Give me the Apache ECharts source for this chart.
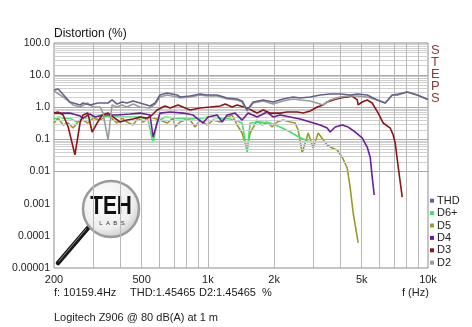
<!DOCTYPE html>
<html><head><meta charset="utf-8">
<script src="https://cdn.jsdelivr.net/npm/echarts@6/dist/echarts.min.js"></script>
<style>html,body{margin:0;padding:0;background:#fff}#c{width:472px;height:327px}</style>
</head><body><div id="c"></div>
<script>
const freqTicks = [200, 500, 1000, 2000, 5000, 10000];
const yTickValues = [0.00001, 0.0001, 0.001, 0.01, 0.1, 1, 10, 100];
const yTickLabels = ['0.00001', '0.0001', '0.001', '0.01', '0.1', '1.0', '10.0', '100.0'];
const legendNames = ['THD', 'D6+', 'D5', 'D4', 'D3', 'D2'];

const thdF = [200,209,236,263,271,291,317,352,367,387,408,429,457,492,546,576,606,653,725,748,830,922,992,1101,1223,1358,1431,1508,1606,1783,1979,2198,2440,2626,2916,3238,3594,3991,4432,4770,5294,5878,6392,6878,7245,8046,8934,10000];
const thdV = [3.45,3.71,1.46,1.18,1.36,1.18,1.36,1.36,1.69,1.26,1.46,1.36,1.57,1.36,1.10,1.36,2.41,2.78,2.41,2.09,2.24,2.59,2.41,2.41,1.94,1.81,1.57,0.82,1.46,1.69,1.46,1.81,2.09,1.94,2.09,2.41,2.59,2.59,2.41,2.59,2.41,1.69,1.36,2.41,2.41,2.99,2.41,1.75];

const d2F = [200,220,244,263,283,301,324,334,352,367,387,408,429,457,492,546,576,606,653,725,748,830,922,992,1101,1223,1358,1431,1508,1606,1783,1979,2198,2440,2626,2916,3340,3594,3991,4432,4770,5294,5878,6392,6878,8046,8934,10000];
const d2V = [3.21,2.09,1.18,1.02,1.36,1.02,1.02,0.66,0.096,1.18,1.02,1.18,1.02,1.26,1.02,0.95,1.26,2.09,2.41,2.09,1.94,2.09,2.41,2.24,2.24,1.81,1.69,1.46,0.77,1.36,1.57,1.26,1.57,1.81,1.69,1.57,1.18,1.69,2.09,2.24,2.24,2.09,1.69,1.36,2.41,2.99,2.41,1.75];

const d3F = [200,209,220,232,249,263,271,285,298,314,331,352,371,399,429,457,492,529,558,588,639,674,732,830,922,1024,1137,1198,1289,1358,1508,1674,1783,1918,2130,2292,2545,2710,2916,3138,3340,3483,3708,3991,4295,4526,4770,4818,5024,5294,5578,5940,6260,6736,6949,7096,7322,7636];
const d3V = [0.66,0.71,0.575,0.243,0.033,0.348,0.575,0.66,0.170,0.324,0.575,0.66,0.50,0.348,0.40,0.43,0.50,0.46,0.575,0.82,1.10,0.95,1.18,0.82,0.95,1.02,1.10,1.26,1.02,1.18,0.95,0.66,0.82,0.66,0.66,0.71,0.71,0.66,0.77,1.02,1.18,1.46,1.69,1.94,2.09,2.24,1.69,1.18,1.46,1.69,1.36,0.66,0.324,0.226,0.137,0.077,0.0139,0.00161];

const d4F = [200,213,236,263,271,291,307,334,387,443,492,546,564,606,674,772,857,951,1002,1101,1161,1223,1330,1431,1524,1674,1859,1979,2130,2365,2626,2916,3238,3483,3594,3788,4076,4340,4670,5024,5294,5464,5578,5696];
const d4V = [0.66,0.66,0.66,0.535,0.46,0.62,0.50,0.575,0.575,0.62,0.66,0.575,0.119,0.66,0.71,0.66,0.575,0.324,0.50,0.575,0.348,0.575,0.66,0.40,0.66,0.50,0.71,0.50,0.575,0.50,0.43,0.348,0.281,0.226,0.170,0.243,0.281,0.243,0.170,0.111,0.058,0.028,0.0068,0.00187];

const d5F = [200,209,220,232,244,257,271,285,301,324,341,359,387,408,429,457,482,508,546,606,653,695,710,748,788,830,875,922,992,1056,1137,1198,1289,1358,1431,1508,1556,1674,1765,1859,1958,2064,2198,2365,2492,2572,2682,2855,3009,3170,3483,3670,3869,4076,4295,4432,4573,4818];
const d5V = [0.324,0.46,0.281,0.324,0.226,0.348,0.40,0.324,0.46,0.40,0.50,0.50,0.324,0.46,0.348,0.281,0.46,0.348,0.50,0.40,0.324,0.46,0.243,0.348,0.40,0.40,0.243,0.40,0.281,0.40,0.348,0.46,0.575,0.281,0.158,0.047,0.158,0.40,0.281,0.348,0.243,0.348,0.40,0.348,0.324,0.196,0.038,0.158,0.054,0.158,0.067,0.054,0.047,0.028,0.0129,0.0031,0.00051,0.00006];

const d6F = [200,209,220,236,254,271,301,334,387,443,492,535,564,588,639,725,830,922,1024,1137,1262,1358,1431,1508,1556,1728,1918,2130,2365,2545,2710,2855];
const d6V = [0.43,0.50,0.46,0.46,0.348,0.46,0.50,0.50,0.50,0.50,0.50,0.40,0.077,0.348,0.50,0.46,0.43,0.46,0.50,0.46,0.43,0.374,0.324,0.041,0.324,0.348,0.324,0.243,0.170,0.128,0.103,0.089];

const colors = {THD:'#62628e', 'D6+':'#3ee46c', D5:'#9c9a24', D4:'#6c1c9c', D3:'#8c1616', D2:'#9c9c9c'};

const zip = (f, v) => f.map((x, i) => [x, v[i]]);

// grid line values (decade sub-divisions)
const xGrid = [];
[100, 1000].forEach(d => { for (let m = 2; m <= 9; m++) { const v = m * d; if (v > 200) xGrid.push(v); } });
xGrid.push(1000);
const yMinor = [], yMajor = [];
for (let k = -5; k < 2; k++) {
  const d = Math.pow(10, k);
  for (let m = 2; m <= 9; m++) yMinor.push(+(m * d).toPrecision(3));
  if (k > -5) yMajor.push(d);
}

function fmtF(v) { const r = Math.round(v); return r >= 1000 ? (r / 1000) + 'k' : String(r); }
function fmtY(v) { return yTickLabels[Math.round(Math.log10(v)) + 5]; }

function mkSeries(name, f, v, z) {
  return {
    name, type: 'line', data: zip(f, v), showSymbol: false, symbol: 'none',
    lineStyle: {width: 1.6, color: colors[name]}, itemStyle: {color: colors[name]},
    z, silent: true, animation: false
  };
}

const chart = echarts.init(document.getElementById('c'), null, {renderer: 'canvas'});
const txt = (x, y, s, opt) => Object.assign({type: 'text', x, y, silent: true, style: Object.assign({text: s, fill: '#222', font: '11px "Liberation Sans", Arial, sans-serif', verticalAlign: 'middle'}, opt || {})});

chart.setOption({
  animation: false,
  backgroundColor: '#fff',
  grid: {left: 54, top: 43, width: 374, height: 225, show: true, borderColor: '#8c8c8c', borderWidth: 1, backgroundColor: 'transparent', containLabel: false},
  xAxis: {
    type: 'log', logBase: 10, min: 200, max: 10000,
    axisLine: {show: false}, axisTick: {show: false}, splitLine: {show: false},
    axisLabel: {customValues: freqTicks, formatter: fmtF, fontSize: 11, color: '#222', margin: 6, fontFamily: '"Liberation Sans", Arial, sans-serif'}
  },
  yAxis: {
    type: 'log', logBase: 10, min: 0.00001, max: 100,
    axisLine: {show: false}, axisTick: {show: false}, splitLine: {show: false},
    axisLabel: {customValues: yTickValues, formatter: fmtY, fontSize: 10.5, color: '#222', margin: 4, fontFamily: '"Liberation Sans", Arial, sans-serif'}
  },
  legend: {
    data: legendNames, orient: 'vertical', left: 430, top: 195, padding: 0,
    itemWidth: 4, itemHeight: 4, itemGap: 1, icon: 'rect', selectedMode: false,
    textStyle: {fontSize: 11, color: '#222', lineHeight: 11.4, padding: [0, 0, 0, -2], fontFamily: '"Liberation Sans", Arial, sans-serif'}
  },
  series: [
    {type: 'line', data: [], z: 1, silent: true, animation: false,
     markLine: {silent: true, symbol: ['none', 'none'], label: {show: false}, animation: false,
       data: [].concat(
         yMinor.map(v => ({yAxis: v, lineStyle: {color: '#d0d0d0', width: 1, type: 'solid'}})),
         yMajor.map(v => ({yAxis: v, lineStyle: {color: '#a8a8a8', width: 1, type: 'solid'}})),
         xGrid.map(v => ({xAxis: v, lineStyle: {color: '#b8b8b8', width: 1, type: 'solid'}}))
       )}},
    mkSeries('D5', d5F, d5V, 3),
    mkSeries('D6+', d6F, d6V, 4),
    mkSeries('D4', d4F, d4V, 5),
    mkSeries('D3', d3F, d3V, 6),
    mkSeries('D2', d2F, d2V, 7),
    mkSeries('THD', thdF, thdV, 8)
  ],
  graphic: [
    txt(54, 34, 'Distortion (%)', {font: '12px "Liberation Sans", Arial, sans-serif', fill: '#111'}),
    {type: 'text', x: 431, y: 44, silent: true, style: {text: 'S\nT\nE\nP\nS', font: '13px "Liberation Sans", Arial, sans-serif', fill: '#8a3a3a', lineHeight: 12.2, verticalAlign: 'top'}},
    txt(54, 293, 'f: 10159.4Hz'),
    txt(130, 293, 'THD:1.45465'),
    txt(199, 293, 'D2:1.45465'),
    txt(262, 293, '%'),
    txt(402, 293, 'f (Hz)'),
    txt(54, 318, 'Logitech Z906 @ 80 dB(A) at 1 m'),
    {type: 'group', silent: true, z: 2, children: [
      {type: 'line', shape: {x1: 88, y1: 228, x2: 58, y2: 263}, style: {stroke: '#1a1a1a', lineWidth: 4.5, lineCap: 'round'}},
      {type: 'line', shape: {x1: 86, y1: 229, x2: 59, y2: 261}, style: {stroke: '#888', lineWidth: 1, lineCap: 'round'}},
      {type: 'circle', shape: {cx: 111, cy: 209, r: 28}, style: {
        fill: {type: 'radial', x: 0.4, y: 0.35, r: 0.7, colorStops: [{offset: 0, color: '#ffffff'}, {offset: 0.7, color: '#eeeeee'}, {offset: 1, color: '#c4c4c4'}]},
        stroke: '#9a9a9a', lineWidth: 2.5}},
      {type: 'text', x: 111, y: 207, scaleX: 0.8, originX: 0, originY: 0, style: {text: 'TEH', font: 'bold 26px "Liberation Sans Narrow", "Liberation Sans", Arial, sans-serif', fill: '#111', align: 'center', verticalAlign: 'middle'}},
      {type: 'text', x: 112, y: 223, style: {text: 'L  A  B  S', font: '6px "Liberation Sans", Arial, sans-serif', fill: '#333', align: 'center', verticalAlign: 'middle'}}
    ]}
  ]
});
</script></body></html>
